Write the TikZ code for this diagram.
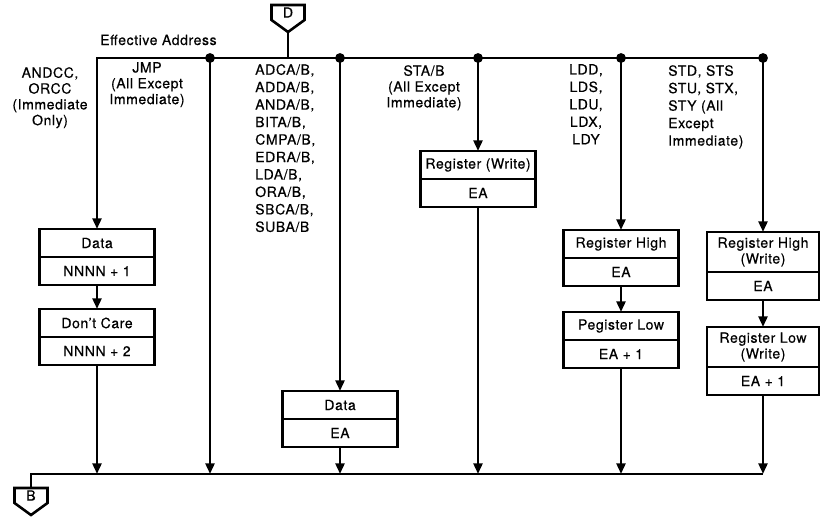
\documentclass[tikz,border=0pt]{standalone}
\usepackage{fontspec}
\setmainfont{TeX Gyre Heros}[LetterSpace=4.0,FakeBold=0.4]
\usetikzlibrary{arrows.meta,calc,positioning}

\begin{document}
\begin{tikzpicture}[x=0.03cm,y=-0.03cm,>={Triangle[length=9pt,width=7.5pt]},
  font=\fontsize{12}{13.5}\selectfont,
  bus/.style={line width=2.4pt},
  flow/.style={line width=2.4pt,->},
  cell/.style={draw,line width=2.2pt,outer sep=0pt,minimum width=3.45cm,minimum height=0.84cm,inner sep=1pt,align=center},
  twoline/.style={minimum height=1.2cm},
  narrow/.style={minimum width=3.36cm},
  offpage/.style={outer sep=0pt,inner sep=0pt,minimum width=0.99cm,minimum height=0.45cm},
  outline/.style={line width=2.2pt,line join=miter},
  lbl/.style={align=center,inner sep=0pt},
  codelist/.style={align=left,inner sep=0pt,font=\fontsize{12}{14.9}\selectfont}]
\useasboundingbox (0,0) rectangle (821,526);

% off-page connectors
\node[offpage,anchor=north] (conD) at (288,5) {D};
\coordinate (conDtip) at ($(conD.south)+(0,12)$);
\draw[outline] (conD.south west) -- (conD.north west) -- (conD.north east)
  -- (conD.south east) -- (conDtip) -- cycle;
\node[offpage,anchor=north] (conB) at (31,488) {B};
\coordinate (conBtip) at ($(conB.south)+(0,12)$);
\draw[outline] (conB.south west) -- (conB.north west) -- (conB.north east)
  -- (conB.south east) -- (conBtip) -- cycle;

% top bus
\coordinate (tA) at (97,58);
\coordinate (tD) at (288,58);
\coordinate (tJ) at (210,58);
\coordinate (tC) at (340,58);
\coordinate (tS) at (478,58);
\coordinate (tL) at (621,58);
\coordinate (tW) at (763,58);
% bottom bus
\coordinate (bA) at (97,474);
\coordinate (bJ) at (210,474);
\coordinate (bC) at (340,474);
\coordinate (bS) at (478,474);
\coordinate (bL) at (621,474);
\coordinate (bW) at (763,474);

% cycle boxes
\node[cell,anchor=north] (data1) at (97,229) {Data};
\node[cell,anchor=north] (addr1) at (data1.south) {NNNN + 1};
\node[cell,anchor=north] (dcare) at (97,309) {Don't Care};
\node[cell,anchor=north] (addr2) at (dcare.south) {NNNN + 2};
\node[cell,anchor=north] (data3) at (340,391) {Data};
\node[cell,anchor=north] (ea3) at (data3.south) {EA};
\node[cell,anchor=north] (regw) at (478,151) {Register (Write)};
\node[cell,anchor=north] (ea4) at (regw.south) {EA};
\node[cell,anchor=north] (reghi) at (621,230) {Register High};
\node[cell,anchor=north] (ea5) at (reghi.south) {EA};
\node[cell,anchor=north] (reglo) at (621,312) {Pegister Low};
\node[cell,anchor=north] (ea6) at (reglo.south) {EA + 1};
\node[cell,twoline,narrow,anchor=north] (reghiw) at (763,232) {Register High\\(Write)};
\node[cell,narrow,anchor=north] (ea7) at (reghiw.south) {EA};
\node[cell,twoline,narrow,anchor=north] (reglow) at (763,327) {Register Low\\(Write)};
\node[cell,narrow,anchor=north] (ea8) at (reglow.south) {EA + 1};

% labels
\node[lbl,anchor=base west] (ealbl) at (100,45) {Effective Address};
\node[lbl,anchor=north] (andcc) at (50,67) {ANDCC,\\ORCC\\(Immediate\\Only)};
\node[lbl,anchor=north] (jmp) at (147,62) {JMP\\(All Except\\Immediate)};
\node[codelist,anchor=north west] (accops) at (255,64) {ADCA/B,\\ADDA/B,\\ANDA/B,\\BITA/B,\\CMPA/B,\\EDRA/B,\\LDA/B,\\ORA/B,\\SBCA/B,\\SUBA/B};
\node[lbl,anchor=north] (sta) at (424,65) {STA/B\\(All Except\\Immediate)};
\node[codelist,align=center,anchor=north] (ldops) at (586,64) {LDD,\\LDS,\\LDU,\\LDX,\\LDY};
\node[codelist,anchor=north west] (stops) at (668,65) {STD, STS\\STU, STX,\\STY (All\\Except\\Immediate)};

% flow
\draw[bus] (conDtip) -- (tD);
\draw[flow] (tW) -- (tA) -- (data1.north);
\draw[flow] (addr1.south) -- (dcare.north);
\draw[flow] (addr2.south) -- (bA);
\draw[flow] (tJ) -- (bJ);
\draw[flow] (tC) -- (data3.north);
\draw[flow] (ea3.south) -- (bC);
\draw[flow] (tS) -- (regw.north);
\draw[flow] (ea4.south) -- (bS);
\draw[flow] (tL) -- (reghi.north);
\draw[flow] (ea5.south) -- (reglo.north);
\draw[flow] (ea6.south) -- (bL);
\draw[flow] (tW) -- (reghiw.north);
\draw[flow] (ea7.south) -- (reglow.north);
\draw[flow] (ea8.south) -- (bW);
\draw[bus] (conB.north) |- (bW);
\foreach \j in {tJ,tC,tS,tL,tW}
  \fill (\j) circle(4.2pt);
\end{tikzpicture}
\end{document}
